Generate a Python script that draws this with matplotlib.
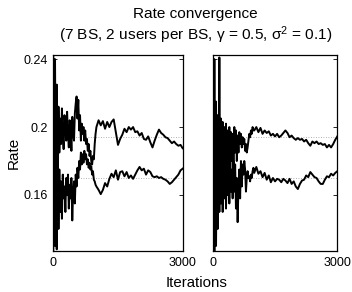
import numpy as np
import matplotlib
matplotlib.use("Agg")
import matplotlib.pyplot as plt

plt.rcParams['font.family'] = ['Liberation Sans', 'DejaVu Sans']
plt.rcParams['mathtext.fontset'] = 'custom'
plt.rcParams['mathtext.rm'] = 'Liberation Sans'
plt.rcParams['mathtext.it'] = 'Liberation Sans'

# iteration grid: every 20 up to 1000, every 50 after
iters = np.concatenate([np.arange(0, 1000, 20), np.arange(1000, 3001, 50)])

left_upper = [
    0.242, 0.135, 0.240, 0.160, 0.225, 0.150, 0.212, 0.185, 0.205, 0.190,
    0.211, 0.195, 0.187, 0.207, 0.200, 0.192, 0.209, 0.196, 0.188, 0.204,
    0.199, 0.186, 0.206, 0.197, 0.192, 0.208, 0.214, 0.218, 0.205, 0.216,
    0.198, 0.207, 0.192, 0.202, 0.196, 0.200, 0.192, 0.198, 0.190, 0.193,
    0.186, 0.190, 0.183, 0.186, 0.180, 0.178, 0.183, 0.181, 0.190, 0.196,
    0.2000, 0.2040, 0.2010, 0.2035, 0.1990, 0.2030, 0.2000, 0.2030, 0.2045, 0.1970,
    0.1895, 0.1930, 0.1955, 0.1990, 0.1970, 0.2000, 0.1985, 0.2000, 0.1970, 0.1975,
    0.1950, 0.1965, 0.1930, 0.1925, 0.1945, 0.1910, 0.1880, 0.1920, 0.1955, 0.1985,
    0.1965, 0.1955, 0.1940, 0.1935, 0.1920, 0.1905, 0.1915, 0.1900, 0.1890, 0.1895,
    0.1875,
]
left_lower = [
    0.127, 0.240, 0.130, 0.220, 0.128, 0.190, 0.140, 0.175, 0.150, 0.168,
    0.146, 0.172, 0.158, 0.165, 0.150, 0.170, 0.160, 0.172, 0.152, 0.166,
    0.158, 0.170, 0.145, 0.162, 0.168, 0.155, 0.172, 0.165, 0.176, 0.170,
    0.180, 0.175, 0.185, 0.178, 0.184, 0.179, 0.186, 0.181, 0.184, 0.178,
    0.181, 0.176, 0.179, 0.175, 0.177, 0.172, 0.174, 0.169, 0.168, 0.166,
    0.1650, 0.1630, 0.1605, 0.1630, 0.1670, 0.1650, 0.1695, 0.1725, 0.1705, 0.1745,
    0.1690, 0.1735, 0.1740, 0.1710, 0.1735, 0.1700, 0.1715, 0.1695, 0.1720, 0.1745,
    0.1765, 0.1745, 0.1755, 0.1720, 0.1745, 0.1735, 0.1710, 0.1705, 0.1710, 0.1700,
    0.1705, 0.1695, 0.1690, 0.1680, 0.1665, 0.1675, 0.1690, 0.1705, 0.1720, 0.1745,
    0.1755,
]
right_upper = [
    0.242, 0.128, 0.240, 0.145, 0.215, 0.150, 0.207, 0.160, 0.241, 0.165,
    0.205, 0.170, 0.203, 0.160, 0.200, 0.175, 0.202, 0.168, 0.198, 0.178,
    0.200, 0.172, 0.197, 0.180, 0.196, 0.175, 0.200, 0.185, 0.198, 0.180,
    0.195, 0.185, 0.197, 0.190, 0.196, 0.188, 0.194, 0.190, 0.193, 0.186,
    0.190, 0.185, 0.188, 0.192, 0.196, 0.194, 0.198, 0.196, 0.200, 0.198,
    0.1980, 0.2000, 0.1970, 0.1995, 0.1960, 0.1980, 0.1965, 0.1975, 0.1950, 0.1960,
    0.1945, 0.1960, 0.1940, 0.1950, 0.1965, 0.1980, 0.1965, 0.1940, 0.1950, 0.1935,
    0.1925, 0.1935, 0.1925, 0.1930, 0.1915, 0.1925, 0.1905, 0.1890, 0.1915, 0.1905,
    0.1915, 0.1900, 0.1905, 0.1895, 0.1900, 0.1880, 0.1895, 0.1880, 0.1900, 0.1925,
    0.1945,
]
right_lower = [
    0.127, 0.235, 0.127, 0.210, 0.130, 0.200, 0.140, 0.195, 0.150, 0.190,
    0.155, 0.185, 0.150, 0.190, 0.158, 0.185, 0.152, 0.180, 0.160, 0.186,
    0.155, 0.180, 0.162, 0.175, 0.158, 0.180, 0.162, 0.178, 0.152, 0.170,
    0.144, 0.165, 0.175, 0.158, 0.180, 0.165, 0.178, 0.172, 0.180, 0.175,
    0.162, 0.170, 0.174, 0.170, 0.171, 0.168, 0.172, 0.170, 0.174, 0.176,
    0.1730, 0.1765, 0.1725, 0.1740, 0.1705, 0.1730, 0.1690, 0.1715, 0.1675, 0.1700,
    0.1680, 0.1695, 0.1690, 0.1675, 0.1695, 0.1685, 0.1670, 0.1695, 0.1665, 0.1680,
    0.1650, 0.1635, 0.1665, 0.1685, 0.1690, 0.1715, 0.1705, 0.1735, 0.1720, 0.1705,
    0.1700, 0.1680, 0.1665, 0.1665, 0.1690, 0.1710, 0.1705, 0.1725, 0.1715, 0.1730,
    0.1740,
]
ref_levels = [0.1943, 0.1702]

yticks = [0.16, 0.2, 0.24]
ytick_labels = ["0.16", "0.2", "0.24"]
xticks = [0, 3000]
xtick_labels = ["0", "3000"]

fig = plt.figure(figsize=(3.52, 2.92), dpi=100)
ax1 = fig.add_axes([0.1514, 0.1404, 0.3676, 0.671])
ax2 = fig.add_axes([0.6043, 0.1404, 0.354, 0.671])

for ax, up, lo in [(ax1, left_upper, left_lower), (ax2, right_upper, right_lower)]:
    for lev in ref_levels:
        ax.axhline(lev, color='#999999', lw=0.6, ls=(0, (1, 2)), zorder=1)
    ax.plot(iters, up, color='black', lw=1.4, zorder=2)
    ax.plot(iters, lo, color='black', lw=1.4, zorder=2)
    ax.set_xlim(0, 3000)
    ax.set_ylim(0.127, 0.2424)
    ax.set_xticks(xticks)
    ax.set_xticklabels(xtick_labels)
    ax.set_yticks(yticks)
    ax.tick_params(direction='in', length=3, width=0.6, labelsize=9,
                   top=True, right=True, pad=4)
    for s in ax.spines.values():
        s.set_linewidth(0.9)

ax1.set_yticklabels(ytick_labels)
ax2.set_yticklabels([])
ax1.set_ylabel("Rate", fontsize=11, labelpad=2)

fig.text(0.555, 0.952, "Rate convergence", ha='center', va='center', fontsize=11.1)
fig.text(0.555, 0.88, "(7 BS, 2 users per BS, γ = 0.5, σ$^{2}$ = 0.1)",
         ha='center', va='center', fontsize=11.1)
fig.text(0.557, 0.03, "Iterations", ha='center', va='center', fontsize=10.8)

fig.savefig("out.png", dpi=100)
